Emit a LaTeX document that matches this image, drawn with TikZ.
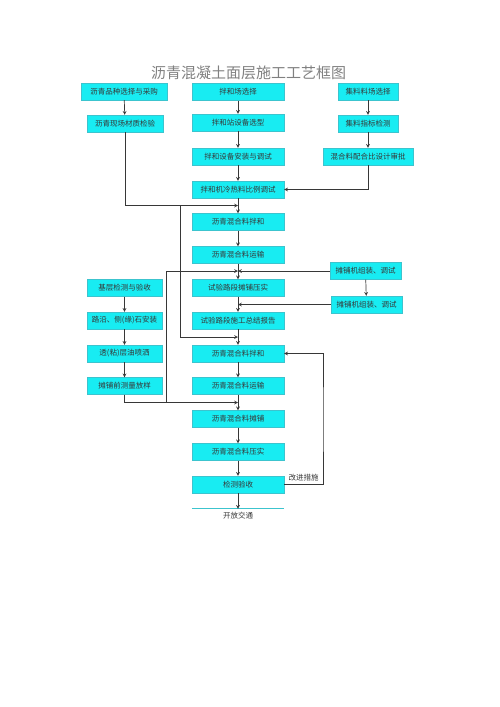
\documentclass[tikz,border=0pt]{standalone}
\usepackage{fontspec}
\newfontfamily\cjk{Noto Sans CJK SC}
\definecolor{boxfill}{RGB}{24,236,242}
\definecolor{boxline}{RGB}{60,196,206}
\definecolor{ink}{RGB}{55,55,55}
\tikzset{
	box/.style={draw=boxline,fill=boxfill,minimum height=17pt,inner sep=0pt,text=ink,font=\cjk\fontsize{7.5}{8}\selectfont},
	flow/.style={->,draw=ink,line width=0.7pt}
}
\begin{document}
\begin{tikzpicture}[x=1pt,y=-1pt,>=stealth]
	\useasboundingbox (0,0) rectangle (500,707);
	\node[text=black!50,font=\cjk\fontsize{15}{15}\selectfont] (title) at (248.5,73) {沥青混凝土面层施工工艺框图};
	% centre column
	\node[box,minimum width=92pt] (c1) at (238,92) {拌和场选择};
	\node[box,minimum width=92pt] (c2) at (238,122.5) {拌和站设备选型};
	\node[box,minimum width=92pt] (c3) at (238,156.5) {拌和设备安装与调试};
	\node[box,minimum width=92pt] (c4) at (238,189.5) {拌和机冷热料比例调试};
	\node[box,minimum width=92pt] (c5) at (238,222) {沥青混合料拌和};
	\node[box,minimum width=92pt] (c6) at (238,255) {沥青混合料运输};
	\node[box,minimum width=92pt] (c7) at (238,288) {试验路段摊铺压实};
	\node[box,minimum width=92pt] (c8) at (238,320.5) {试验路段施工总结报告};
	\node[box,minimum width=92pt] (c9) at (238,353.5) {沥青混合料拌和};
	\node[box,minimum width=92pt] (c10) at (238,386) {沥青混合料运输};
	\node[box,minimum width=92pt] (c11) at (238,419) {沥青混合料摊铺};
	\node[box,minimum width=92pt] (c12) at (238,452) {沥青混合料压实};
	\node[box,minimum width=92pt] (c13) at (238,484.5) {检测验收};
	\node[inner sep=0pt,minimum width=92pt,minimum height=14pt,text=ink,font=\cjk\fontsize{7.5}{8}\selectfont] (open) at (238,516) {开放交通};
	\draw[boxline,line width=0.8pt] (open.north west) -- (open.north east);
	% left column
	\node[box,minimum width=86pt] (l1) at (124,91.5) {沥青品种选择与采购};
	\node[box,minimum width=76pt] (l2) at (125,123.5) {沥青现场材质检验};
	\node[box,minimum width=75pt] (l3) at (124.5,288) {基层检测与验收};
	\node[box,minimum width=75pt] (l4) at (124.5,320.5) {路沿、侧(缘)石安装};
	\node[box,minimum width=75pt] (l5) at (124.5,353.5) {透(粘)层油喷洒};
	\node[box,minimum width=75pt] (l6) at (124.5,386) {摊铺前测量放样};
	% right column
	\node[box,minimum width=60pt] (r1) at (368,91.5) {集料料场选择};
	\node[box,minimum width=60pt] (r2) at (368,123.5) {集料指标检测};
	\node[box,minimum width=90pt] (r3) at (368,156.5) {混合料配合比设计审批};
	\node[box,minimum width=71pt] (p1) at (365.5,271) {摊铺机组装、调试};
	\node[box,minimum width=71pt] (p2) at (366.5,304.5) {摊铺机组装、调试};
	% junctions on the centre line
	\coordinate (j1) at (238,205.5);
	\coordinate (j2) at (238,271);
	\coordinate (j3) at (238,304.5);
	\coordinate (j4) at (238,337);
	\coordinate (j5) at (238,402.5);
	\coordinate (k1) at (180,205.5);
	\coordinate (k2) at (166,402.5);
	\coordinate (fb) at (323,420);
	\foreach \a/\b in {c1/c2,c2/c3,c3/c4,c4/c5,c5/c6,c6/c7,c7/c8,c8/c9,c9/c10,c10/c11,c11/c12,c12/c13,c13/open}
		\draw[flow] (\a) -- (\b);
	\draw[flow] (l1) -- (l2);
	\draw[flow] (l3) -- (l4);
	\draw[flow] (l4) -- (l5);
	\draw[flow] (l5) -- (l6);
	\draw[flow] (r1) -- (r2);
	\draw[flow] (r2) -- (r3);
	\draw[flow] (p1) -- (p2);
	\draw[flow] (l2.south) |- (j1);
	\draw[flow] (k1) |- (j4);
	\draw[flow] (r3.south) |- (c4.east);
	\draw[flow] (l6.south) |- (j5);
	\draw[flow] (k2) |- (j2);
	\draw[flow] (p1.west) -- (j2);
	\draw[flow] (p2.west) -- (j3);
	\draw[flow] (c13.east) -| node[pos=0.25,above=-0.5pt,text=ink,font=\cjk\fontsize{7.5}{8}\selectfont] {改进措施} (fb) |- (c9.east);
\end{tikzpicture}
\end{document}
